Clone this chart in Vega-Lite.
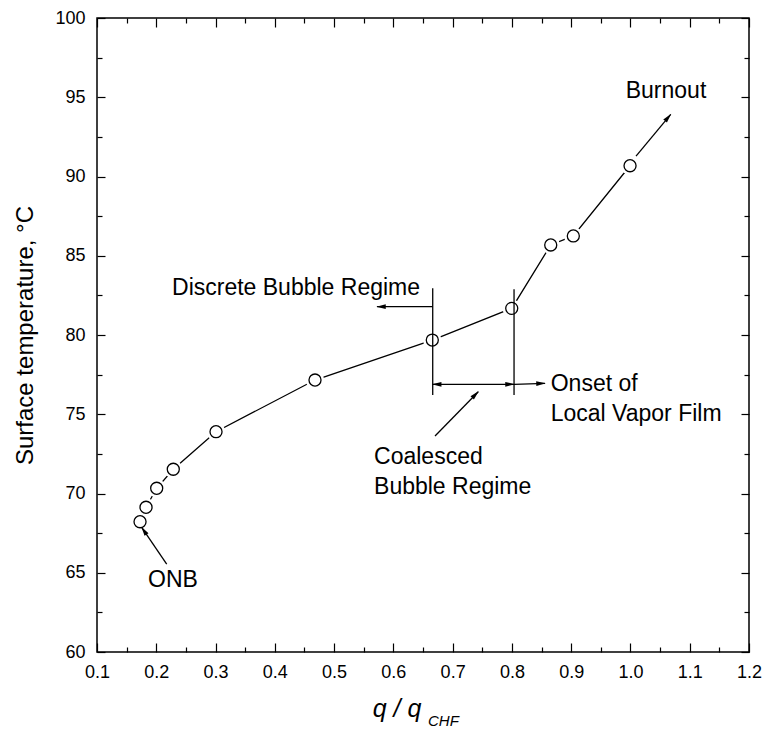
{
  "$schema": "https://vega.github.io/schema/vega-lite/v6.json",
  "width": 652,
  "height": 634,
  "autosize": {"type": "none"},
  "padding": {"left": 97, "top": 18, "right": 16, "bottom": 81},
  "background": "white",
  "config": {
    "view": {"stroke": "black", "strokeWidth": 1.5},
    "axis": {"grid": false, "domain": false, "tickColor": "black", "tickWidth": 1.2, "labelFont": "Liberation Sans", "labelFontSize": 18, "labelColor": "black", "titleFont": "Liberation Sans", "titleColor": "black", "titleFontWeight": "normal"},
    "text": {"font": "Liberation Sans", "color": "black"}
  },
  "datasets": {
    "pts": [
      {"x": 0.1726, "y": 68.22}, {"x": 0.1827, "y": 69.13}, {"x": 0.2007, "y": 70.33},
      {"x": 0.2287, "y": 71.53}, {"x": 0.3008, "y": 73.9}, {"x": 0.4678, "y": 77.16},
      {"x": 0.6657, "y": 79.68}, {"x": 0.7997, "y": 81.68}, {"x": 0.8655, "y": 85.68},
      {"x": 0.9036, "y": 86.25}, {"x": 0.9993, "y": 90.68}
    ],
    "segs": [
      {"x": 1.0094, "y": 91.29, "x2": 1.068, "y2": 93.92},
      {"x": 0.2176, "y": 65.55, "x2": 0.1754, "y2": 67.87},
      {"x": 0.6664, "y": 82.95, "x2": 0.6664, "y2": 76.21},
      {"x": 0.8036, "y": 82.88, "x2": 0.8036, "y2": 76.21},
      {"x": 0.6664, "y": 81.79, "x2": 0.5724, "y2": 81.79},
      {"x": 0.6664, "y": 76.89, "x2": 0.8036, "y2": 76.89},
      {"x": 0.8036, "y": 76.89, "x2": 0.8559, "y2": 76.95},
      {"x": 0.6703, "y": 73.63, "x2": 0.7433, "y2": 76.42}
    ],
    "heads": [
      {"x": 1.0636, "y": 93.73, "a": 40},
      {"x": 0.1791, "y": 67.66, "a": -34},
      {"x": 0.5792, "y": 81.79, "a": 270},
      {"x": 0.6731, "y": 76.89, "a": 270},
      {"x": 0.7968, "y": 76.89, "a": 90},
      {"x": 0.8491, "y": 76.94, "a": 88},
      {"x": 0.7386, "y": 76.25, "a": 44}
    ],
    "ctext": [
      {"x": 1.06, "y": 95.41, "t": "Burnout"},
      {"x": 0.4358, "y": 82.95, "t": "Discrete Bubble Regime"},
      {"x": 0.2282, "y": 64.54, "t": "ONB"}
    ],
    "ltext": [
      {"x": 0.8655, "y": 76.91, "t": "Onset of"},
      {"x": 0.8655, "y": 75.02, "t": "Local Vapor Film"},
      {"x": 0.5674, "y": 72.28, "t": "Coalesced"},
      {"x": 0.5674, "y": 70.43, "t": "Bubble Regime"}
    ],
    "xt": [{"x": 0.6062, "y": 55.9, "t": "q / q"}],
    "xs": [{"x": 0.6585, "y": 55.35, "t": "CHF"}]
  },
  "resolve": {"axis": {"x": "independent", "y": "independent"}},
  "layer": [
    {
      "data": {"name": "pts"},
      "mark": {"type": "line", "stroke": "black", "strokeWidth": 1.3},
      "encoding": {
        "x": {"field": "x", "type": "quantitative", "scale": {"domain": [0.1, 1.2], "nice": false, "zero": false},
              "axis": {"orient": "bottom", "values": [0.1,0.2,0.3,0.4,0.5,0.6,0.7,0.8,0.9,1.0,1.1,1.2], "format": ".1f", "tickSize": -9, "labelPadding": 20, "title": null, "labelFlush": false}},
        "y": {"field": "y", "type": "quantitative", "scale": {"domain": [60, 100], "nice": false, "zero": false},
              "axis": {"orient": "left", "values": [60,65,70,75,80,85,90,95,100], "tickSize": -8, "labelPadding": 20, "labelFlush": false,
                       "title": "Surface temperature, °C", "titleFontSize": 24, "titleAngle": -90, "titleX": -72, "titleY": 317, "titleBaseline": "middle", "titleAlign": "center"}}
      }
    },
    {
      "data": {"name": "pts"},
      "mark": {"type": "point", "shape": "circle", "filled": true, "fill": "white", "opacity": 1, "size": 340},
      "encoding": {
        "x": {"field": "x", "type": "quantitative", "scale": {"domain": [0.1, 1.2], "nice": false, "zero": false},
              "axis": {"orient": "top", "values": [0.1,0.2,0.3,0.4,0.5,0.6,0.7,0.8,0.9,1.0,1.1,1.2], "tickSize": -9, "labels": false, "title": null}},
        "y": {"field": "y", "type": "quantitative", "scale": {"domain": [60, 100], "nice": false, "zero": false},
              "axis": {"orient": "right", "values": [60,65,70,75,80,85,90,95,100], "tickSize": -8, "labels": false, "title": null}}
      }
    },
    {
      "data": {"name": "pts"},
      "mark": {"type": "point", "shape": "circle", "filled": false, "fill": "white", "fillOpacity": 1, "stroke": "black", "strokeWidth": 1.3, "opacity": 1, "size": 145},
      "encoding": {
        "x": {"field": "x", "type": "quantitative", "scale": {"domain": [0.1, 1.2], "nice": false, "zero": false},
              "axis": {"orient": "bottom", "values": [0.15,0.25,0.35,0.45,0.55,0.65,0.75,0.85,0.95,1.05,1.15], "tickSize": -5, "labels": false, "title": null}},
        "y": {"field": "y", "type": "quantitative", "scale": {"domain": [60, 100], "nice": false, "zero": false},
              "axis": {"orient": "left", "values": [62.5,67.5,72.5,77.5,82.5,87.5,92.5,97.5], "tickSize": -5, "labels": false, "title": null}}
      }
    },
    {
      "data": {"name": "segs"},
      "mark": {"type": "rule", "stroke": "black", "strokeWidth": 1.3},
      "encoding": {
        "x": {"field": "x", "type": "quantitative", "scale": {"domain": [0.1, 1.2], "nice": false, "zero": false},
              "axis": {"orient": "top", "values": [0.15,0.25,0.35,0.45,0.55,0.65,0.75,0.85,0.95,1.05,1.15], "tickSize": -5, "labels": false, "title": null}},
        "y": {"field": "y", "type": "quantitative", "scale": {"domain": [60, 100], "nice": false, "zero": false},
              "axis": {"orient": "right", "values": [62.5,67.5,72.5,77.5,82.5,87.5,92.5,97.5], "tickSize": -5, "labels": false, "title": null}},
        "x2": {"field": "x2"},
        "y2": {"field": "y2"}
      }
    },
    {
      "data": {"name": "heads"},
      "mark": {"type": "point", "shape": "M0,-1L0.5,1L-0.5,1Z", "filled": true, "fill": "black", "stroke": null, "opacity": 1, "size": 90},
      "encoding": {
        "x": {"field": "x", "type": "quantitative", "axis": null},
        "y": {"field": "y", "type": "quantitative", "axis": null},
        "angle": {"field": "a", "type": "quantitative", "scale": null}
      }
    },
    {
      "data": {"name": "ctext"},
      "mark": {"type": "text", "fontSize": 23, "align": "center", "baseline": "middle", "font": "Liberation Sans"},
      "encoding": {
        "x": {"field": "x", "type": "quantitative", "axis": null},
        "y": {"field": "y", "type": "quantitative", "axis": null},
        "text": {"field": "t"}
      }
    },
    {
      "data": {"name": "ltext"},
      "mark": {"type": "text", "fontSize": 23, "align": "left", "baseline": "middle", "font": "Liberation Sans"},
      "encoding": {
        "x": {"field": "x", "type": "quantitative", "axis": null},
        "y": {"field": "y", "type": "quantitative", "axis": null},
        "text": {"field": "t"}
      }
    },
    {
      "data": {"name": "xt"},
      "mark": {"type": "text", "fontSize": 25, "fontStyle": "italic", "align": "center", "baseline": "alphabetic", "font": "Liberation Sans"},
      "encoding": {
        "x": {"field": "x", "type": "quantitative", "axis": null},
        "y": {"field": "y", "type": "quantitative", "axis": null},
        "text": {"field": "t"}
      }
    },
    {
      "data": {"name": "xs"},
      "mark": {"type": "text", "fontSize": 15, "fontStyle": "italic", "align": "left", "baseline": "alphabetic", "font": "Liberation Sans"},
      "encoding": {
        "x": {"field": "x", "type": "quantitative", "axis": null},
        "y": {"field": "y", "type": "quantitative", "axis": null},
        "text": {"field": "t"}
      }
    }
  ]
}
